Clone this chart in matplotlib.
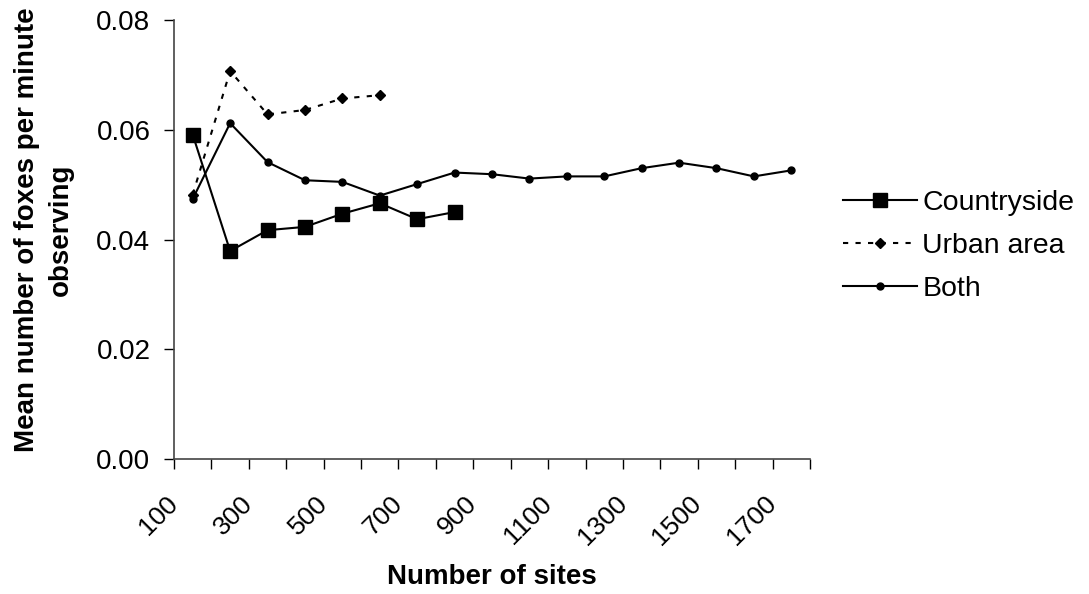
import numpy as np
import matplotlib.pyplot as plt

plt.rcParams['font.family'] = ['Liberation Sans', 'DejaVu Sans']

# category midpoints (number of sites)
sites = [150, 250, 350, 450, 550, 650, 750, 850, 950, 1050,
         1150, 1250, 1350, 1450, 1550, 1650, 1750]

countryside = [0.0591, 0.0379, 0.0417, 0.0423, 0.0447, 0.0466, 0.0437, 0.0450]
urban = [0.0482, 0.0707, 0.0628, 0.0636, 0.0657, 0.0663]
both = [0.0474, 0.0612, 0.0541, 0.0508, 0.0505, 0.0480, 0.0501, 0.0522, 0.0519,
        0.0511, 0.0515, 0.0515, 0.0530, 0.0540, 0.0530, 0.0515, 0.0526]

xticks = list(range(100, 1900, 100))
xlabels = [str(v) if (v // 100) % 2 == 1 else '' for v in xticks]
yticks = [0.00, 0.02, 0.04, 0.06, 0.08]

fig = plt.figure(figsize=(10.89, 5.94), dpi=100)
ax = fig.add_axes([0.1598, 0.2273, 0.584, 0.739])

ax.plot(sites[:len(countryside)], countryside, color='black', lw=1.5,
        marker='s', markersize=10, label='Countryside')
ax.plot(sites[:len(urban)], urban, color='black', lw=1.5, ls=(0, (2.5, 3.5)),
        marker='D', markersize=5, label='Urban area')
ax.plot(sites[:len(both)], both, color='black', lw=1.5,
        marker='o', markersize=5, label='Both')

ax.set_xlim(100, 1800)
ax.set_ylim(0, 0.08)
ax.set_xticks(xticks)
ax.set_xticklabels(xlabels, rotation=45, ha='right', va='center',
                   rotation_mode='anchor', fontsize=19)
ax.set_yticks(yticks)
ax.set_yticklabels(['%.2f' % v for v in yticks], fontsize=20)
ax.tick_params(direction='out', length=7.5, width=1, colors='black')
ax.tick_params(axis='y', pad=9.5)
ax.tick_params(axis='x', pad=22)

for s in ['top', 'right']:
    ax.spines[s].set_visible(False)
for s in ['left', 'bottom']:
    ax.spines[s].set_color('#444444')
    ax.spines[s].set_linewidth(1.2)

ax.set_xlabel('Number of sites', fontsize=20, fontweight='bold', labelpad=10.5)
fig.text(44 / 1089, 1 - 230 / 594, 'Mean number of foxes per minute\nobserving',
         rotation=90, ha='center', va='center', multialignment='center',
         fontsize=20, fontweight='bold', linespacing=1.4)

leg = ax.legend(loc='center left', bbox_to_anchor=(1.012, 0.4855), frameon=False,
                fontsize=20.5, handlelength=2.6, handletextpad=0.18,
                labelspacing=0.6, markerscale=1.0)

fig.savefig('out.png', dpi=100)
